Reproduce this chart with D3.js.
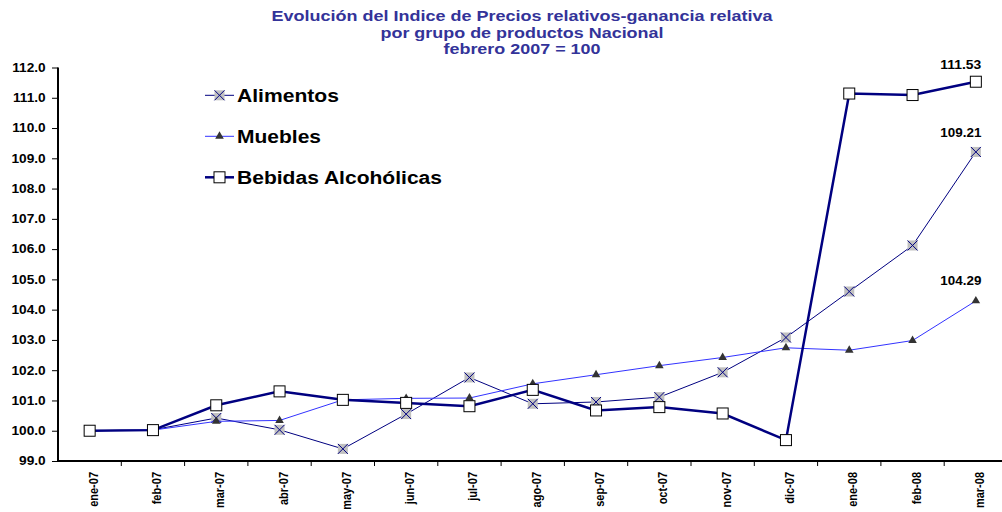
<!DOCTYPE html>
<html>
<head>
<meta charset="utf-8">
<script src="https://cdn.jsdelivr.net/npm/d3@7.9.0/dist/d3.min.js"></script>
<style>
  body { margin: 0; background: #fff; }
  svg { display: block; font-family: "Liberation Sans", Arial, sans-serif; }
</style>
</head>
<body>
<svg id="chart" width="1002" height="512"></svg>
<script>
const months = ["ene-07", "feb-07", "mar-07", "abr-07", "may-07", "jun-07", "jul-07", "ago-07",
  "sep-07", "oct-07", "nov-07", "dic-07", "ene-08", "feb-08", "mar-08"];

const alimentos = [100.0, 100.03, 100.42, 100.03, 99.40, 100.55, 101.76, 100.89,
  100.95, 101.11, 101.93, 103.08, 104.60, 106.12, 109.21];
const muebles = [100.0, 100.02, 100.31, 100.34, 101.02, 101.07, 101.08, 101.55,
  101.85, 102.15, 102.42, 102.74, 102.66, 102.98, 104.29];
const bebidas = [100.0, 100.02, 100.84, 101.30, 101.02, 100.92, 100.81, 101.35,
  100.67, 100.78, 100.57, 99.69, 111.14, 111.09, 111.53];

const yTicks = d3.range(99, 112.5, 1);
const titleLines = ["Evolución del Indice de Precios relativos-ganancia relativa",
  "por grupo de productos Nacional", "febrero 2007 = 100"];
const legendItems = ["Alimentos", "Muebles", "Bebidas Alcohólicas"];

const svg = d3.select("#chart");
const plotLeft = 58, plotTop = 67.5, plotBottom = 461;
const stretch = 1.14; // the original text is drawn a bit wide

const x = d3.scaleBand().domain(months).range([plotLeft, plotLeft + 15 * 63.3]);
const y = d3.scaleLinear().domain([99, 112]).range([plotBottom, plotTop]);

// title (the source renders it wider than Arial, so fit each line to its width)
const titleWidths = [501, 283, 157];
svg.append("g").selectAll("text")
  .data(titleLines)
  .join("text")
  .attr("x", 522)
  .attr("y", (d, i) => 21 + i * 16.5)
  .attr("text-anchor", "middle")
  .attr("fill", "#333399")
  .attr("font-weight", "bold")
  .attr("font-size", "15px")
  .attr("textLength", (d, i) => titleWidths[i])
  .attr("lengthAdjust", "spacingAndGlyphs")
  .text(d => d);

// axes
const yAxis = svg.append("g")
  .attr("transform", `translate(${plotLeft},0)`)
  .call(d3.axisLeft(y).tickValues(yTicks).tickFormat(d3.format(".1f")).tickSize(6));
yAxis.select(".domain").attr("stroke-width", 2).attr("d", `M0,${plotTop}V${plotBottom}`);
yAxis.selectAll("text")
  .attr("x", 0)
  .attr("transform", `translate(-12.3,0) scale(${stretch},1)`)
  .attr("font-size", "12px").attr("font-weight", "bold").attr("fill", "#000")
  .attr("font-family", "Liberation Sans, Arial, sans-serif");

const xAxis = svg.append("g")
  .attr("transform", `translate(0,${plotBottom})`)
  .call(d3.axisBottom(x).tickSize(0).tickFormat(""));
xAxis.select(".domain").attr("stroke-width", 2).attr("d", `M${plotLeft},0H1002`);

svg.append("g").selectAll("line")
  .data(months.slice(1))
  .join("line")
  .attr("x1", d => x(d)).attr("x2", d => x(d))
  .attr("y1", plotBottom).attr("y2", plotBottom + 5)
  .attr("stroke", "#000");

svg.append("g").selectAll("text")
  .data(months)
  .join("text")
  .attr("transform", d => `translate(${x(d) + x.bandwidth() / 2 + 8},${plotBottom + 11}) rotate(-90) scale(1,${stretch})`)
  .attr("text-anchor", "end")
  .attr("font-size", "11px")
  .attr("font-weight", "bold")
  .text(d => d);

// series
const cx = (d, i) => x(months[i]) + x.bandwidth() / 2;
const line = d3.line().x(cx).y(d => y(d));

function drawX(g, data) {
  g.selectAll("rect").data(data).join("rect")
    .attr("x", (d, i) => cx(d, i) - 5).attr("y", d => y(d) - 5)
    .attr("width", 10).attr("height", 10).attr("fill", "#c0c0c0");
  g.selectAll("path.x").data(data).join("path").attr("class", "x")
    .attr("d", (d, i) => {
      const px = cx(d, i), py = y(d);
      return `M${px - 5},${py - 5}L${px + 5},${py + 5}M${px - 5},${py + 5}L${px + 5},${py - 5}`;
    })
    .attr("stroke", "#000080").attr("stroke-width", 1);
}

const gA = svg.append("g");
gA.append("path").datum(alimentos).attr("d", line).attr("fill", "none")
  .attr("stroke", "#000080").attr("stroke-width", 1);
drawX(gA, alimentos);

const gM = svg.append("g");
gM.append("path").datum(muebles).attr("d", line).attr("fill", "none")
  .attr("stroke", "#3333ff").attr("stroke-width", 1);
const tri = d3.symbol().type(d3.symbolTriangle).size(32);
gM.selectAll("path.m").data(muebles).join("path").attr("class", "m")
  .attr("transform", (d, i) => `translate(${cx(d, i)},${y(d)})`)
  .attr("d", tri).attr("fill", "#333333");

const gB = svg.append("g");
gB.append("path").datum(bebidas).attr("d", line).attr("fill", "none")
  .attr("stroke", "#000080").attr("stroke-width", 2.5);
gB.selectAll("rect").data(bebidas).join("rect")
  .attr("x", (d, i) => cx(d, i) - 5.5).attr("y", d => y(d) - 5.5)
  .attr("width", 11).attr("height", 11)
  .attr("fill", "#fff").attr("stroke", "#000").attr("stroke-width", 1);

// end labels
const last = months.length - 1;
const endLabels = [
  { v: bebidas[last], dy: -12.4 },
  { v: alimentos[last], dy: -15.3 },
  { v: muebles[last], dy: -15.7 }
];
svg.append("g").selectAll("text")
  .data(endLabels)
  .join("text")
  .attr("x", cx(null, last) - 15)
  .attr("y", d => y(d.v) + d.dy)
  .attr("text-anchor", "middle")
  .attr("font-size", "12px")
  .attr("font-weight", "bold")
  .attr("textLength", 41)
  .attr("lengthAdjust", "spacingAndGlyphs")
  .text(d => d.v.toFixed(2));

// legend
const legendWidths = [102, 84, 205];
const lg = svg.append("g");
const ly = i => 95.3 + i * 41;
legendItems.forEach((name, i) => {
  const g = lg.append("g").attr("transform", `translate(0,${ly(i)})`);
  g.append("line").attr("x1", 205).attr("x2", 234).attr("y1", 0).attr("y2", 0)
    .attr("stroke", i === 1 ? "#3333ff" : "#000080").attr("stroke-width", i === 2 ? 2.5 : 1);
  if (i === 0) {
    g.append("rect").attr("x", 214.5).attr("y", -5).attr("width", 10).attr("height", 10).attr("fill", "#c0c0c0");
    g.append("path").attr("d", "M214.5,-5L224.5,5M214.5,5L224.5,-5").attr("stroke", "#000080");
  } else if (i === 1) {
    g.append("path").attr("transform", "translate(219.5,0)").attr("d", tri).attr("fill", "#333333");
  } else {
    g.append("rect").attr("x", 214).attr("y", -5.5).attr("width", 11).attr("height", 11)
      .attr("fill", "#fff").attr("stroke", "#000");
  }
  g.append("text").attr("x", 237).attr("y", 6.3).attr("font-size", "18px").attr("font-weight", "bold")
    .attr("textLength", legendWidths[i])
    .attr("lengthAdjust", "spacingAndGlyphs")
    .text(name);
});
</script>
</body>
</html>
